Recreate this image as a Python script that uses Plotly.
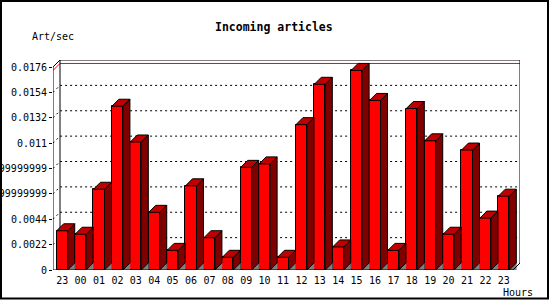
import plotly.graph_objects as go

# ---------------- data ----------------
hours = ["23", "00", "01", "02", "03", "04", "05", "06", "07", "08", "09", "10",
         "11", "12", "13", "14", "15", "16", "17", "18", "19", "20", "21", "22", "23"]
articles_per_sec = [0.0034, 0.0031, 0.0070, 0.0142, 0.0111, 0.0050, 0.0017, 0.0073,
                    0.0028, 0.0011, 0.0089, 0.0092, 0.0011, 0.0126, 0.0161, 0.0020,
                    0.0173, 0.0147, 0.0017, 0.0140, 0.0112, 0.0031, 0.0104, 0.0045,
                    0.0064]
y_tick_values = [0, 0.0022, 0.0044, 0.0066, 0.0088, 0.011, 0.0132, 0.0154, 0.0176]
y_tick_labels = ["0", "0.0022", "0.0044", "0.0065999999999999", "0.0087999999999999",
                 "0.011", "0.0132", "0.0154", "0.0176"]
title_text = "Incoming articles"
y_unit_text = "Art/sec"
x_unit_text = "Hours"

# ---------------- geometry ----------------
W, H = 550, 300
ML, MR, MT, MB = 53, 30, 60, 30
PW, PH = W - ML - MR, H - MT - MB
DEPTH = 7                      # px of 3D depth
n = len(hours)
ymax = y_tick_values[-1]
cat_px = (PW - DEPTH) / n
val_px = (PH - DEPTH) / ymax
dx = DEPTH / cat_px
dy = DEPTH / val_px
bw = 0.6
x0, x1 = -0.5, n - 0.5

FONT = "DejaVu Sans Mono"
RED, TOP, SIDE, FLOOR = "#ff0000", "#c00000", "#800000", "#808080"

fig = go.Figure()

# front faces
fig.add_trace(go.Bar(x=list(range(n)), y=articles_per_sec, width=bw,
                     marker=dict(color=RED, line=dict(color="black", width=1)),
                     hoverinfo="skip", showlegend=False))

shadow_x, shadow_y, side_x, side_y, top_x, top_y = [], [], [], [], [], []
for i, v in enumerate(articles_per_sec):
    l, r = i - bw / 2, i + bw / 2
    shadow_x += [r, r + dx, r + dx, r, None]
    shadow_y += [0, 0, dy, 0, None]
    side_x += [r, r + dx, r + dx, r, r, None]
    side_y += [0, dy, v + dy, v, 0, None]
    top_x += [l, l + dx, r + dx, r, l, None]
    top_y += [v, v + dy, v + dy, v, v, None]

fig.add_trace(go.Scatter(x=shadow_x, y=shadow_y, mode="lines", fill="toself",
                         fillcolor=FLOOR, line=dict(color=FLOOR, width=0.5),
                         hoverinfo="skip", showlegend=False))
fig.add_trace(go.Scatter(x=side_x, y=side_y, mode="lines", fill="toself",
                         fillcolor=SIDE, line=dict(color="black", width=1),
                         hoverinfo="skip", showlegend=False))
fig.add_trace(go.Scatter(x=top_x, y=top_y, mode="lines", fill="toself",
                         fillcolor=TOP, line=dict(color="black", width=1),
                         hoverinfo="skip", showlegend=False))

shapes = []
# dotted grid lines on left wall and back wall
for v in y_tick_values[1:-1]:
    shapes.append(dict(type="path", xref="x", yref="y", layer="below",
                       path=f"M {x0},{v} L {x0+dx},{v+dy} L {x1+dx},{v+dy}",
                       line=dict(color="black", width=1, dash="2px,3px")))
# max line (red)
vmax = max(articles_per_sec)
shapes.append(dict(type="path", xref="x", yref="y", layer="below",
                   path=f"M {x0},{vmax} L {x0+dx},{vmax+dy} L {x1+dx},{vmax+dy}",
                   line=dict(color=RED, width=1)))
# back frame
shapes.append(dict(type="path", xref="x", yref="y", layer="below",
                   path=f"M {x0+dx},{dy} L {x0+dx},{ymax+dy} L {x1+dx},{ymax+dy} L {x1+dx},{dy}",
                   line=dict(color="black", width=1)))
# front axis lines
shapes.append(dict(type="path", xref="x", yref="y", layer="above",
                   path=f"M {x0+dx},{ymax+dy} L {x0},{ymax} L {x0},0 L {x1},0 L {x1+dx},{dy}",
                   line=dict(color="black", width=1)))
# outer border
def px2paper(px, py):
    return (px - ML) / PW, (MT + PH - py) / PH
bx0, by0 = px2paper(1, 298.5)
bx1, by1 = px2paper(548, 1)
shapes.append(dict(type="rect", xref="paper", yref="paper", x0=bx0, x1=bx1, y0=by0, y1=by1,
                   line=dict(color="black", width=2), layer="above"))

annotations = []
tx, ty = px2paper(274, 27)
annotations.append(dict(text=f"<b>{title_text}</b>", x=tx, y=ty, xref="paper", yref="paper",
                        xanchor="center", yanchor="middle", showarrow=False,
                        font=dict(family=FONT, size=11.5, color="black")))
ax_, ay_ = px2paper(30, 37)
annotations.append(dict(text=y_unit_text, x=ax_, y=ay_, xref="paper", yref="paper",
                        xanchor="left", yanchor="middle", showarrow=False,
                        font=dict(family=FONT, size=10, color="black")))
hx, hy = px2paper(535, 292)
annotations.append(dict(text=x_unit_text, x=hx, y=hy, xref="paper", yref="paper",
                        xanchor="right", yanchor="middle", showarrow=False,
                        font=dict(family=FONT, size=10, color="black")))

fig.update_layout(
    width=W, height=H, autosize=False,
    margin=dict(l=ML, r=MR, t=MT, b=MB, pad=0, autoexpand=False),
    paper_bgcolor="white", plot_bgcolor="white",
    font=dict(family=FONT, size=10, color="black"),
    shapes=shapes, annotations=annotations, bargap=0,
    xaxis=dict(range=[x0, x1 + dx], tickvals=list(range(n)), ticktext=hours,
               ticks="outside", ticklen=1, tickcolor="rgba(0,0,0,0)", automargin=False,
               showgrid=False, zeroline=False, showline=False, fixedrange=True,
               tickfont=dict(family=FONT, size=10, color="black")),
    xaxis2=dict(range=[x0, x1 + dx], overlaying="x", anchor="y", side="bottom",
                tickvals=[i - 0.5 for i in range(n + 1)], ticks="outside", ticklen=3,
                tickcolor="black", showticklabels=False, showgrid=False, automargin=False,
                zeroline=False, showline=False),
    yaxis=dict(range=[0, ymax + dy], tickvals=y_tick_values, ticktext=y_tick_labels,
               ticks="outside", ticklen=3, tickcolor="black", showgrid=False,
               zeroline=False, showline=False, fixedrange=True, automargin=False,
               tickfont=dict(family=FONT, size=10, color="black")),
)

fig.write_html("out.html")
